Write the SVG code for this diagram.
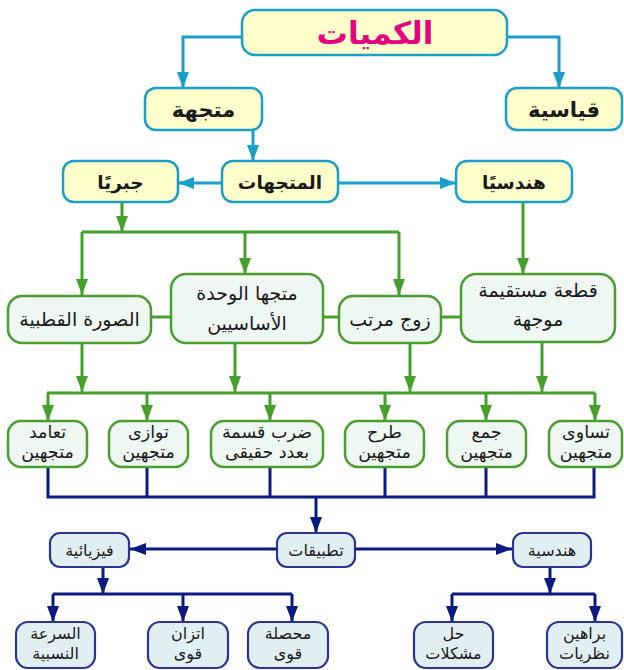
<svg xmlns="http://www.w3.org/2000/svg" width="624" height="670" viewBox="0 0 624 670">
<defs>
<style>
.t{font-family:"DejaVu Sans","Noto Sans",sans-serif;text-anchor:middle;fill:#1a1a1a}
.y rect{fill:#FFFFCC;stroke:#1A9FCB;stroke-width:2.5}
.g rect{fill:#EEF7F2;stroke:#4A9D2F;stroke-width:2.5}
.b rect{fill:#E1EFF3;stroke:#2B3590;stroke-width:2.2}
.cy{fill:none;stroke:#1A9FCB;stroke-width:3}
.cg{fill:none;stroke:#45A02B;stroke-width:3}
.cb{fill:none;stroke:#0B1A80;stroke-width:3}
.ty{font-size:21px;font-weight:bold}
.tm{font-size:18.5px;font-weight:bold}
.tg{font-size:19px}
.tl{font-size:17.5px}
.tb{font-size:16px}
</style>
<marker id="ay" viewBox="0 0 16 12" refX="16" refY="6" markerWidth="16" markerHeight="12" markerUnits="userSpaceOnUse" orient="auto"><path d="M0,0 L16,6 L0,12 z" fill="#1A9FCB"/></marker>
<marker id="ag" viewBox="0 0 16 12" refX="16" refY="6" markerWidth="16" markerHeight="12" markerUnits="userSpaceOnUse" orient="auto"><path d="M0,0 L16,6 L0,12 z" fill="#45A02B"/></marker>
<marker id="ab" viewBox="0 0 16 12" refX="16" refY="6" markerWidth="16" markerHeight="12" markerUnits="userSpaceOnUse" orient="auto"><path d="M0,0 L16,6 L0,12 z" fill="#0B1A80"/></marker>
</defs>
<g id="connectors">
<path class="cy" d="M242,37 H183 V88" marker-end="url(#ay)"/>
<path class="cy" d="M507,37 H559 V88" marker-end="url(#ay)"/>
<path class="cy" d="M253,130 V161" marker-end="url(#ay)"/>
<path class="cy" d="M222,183 H178" marker-end="url(#ay)"/>
<path class="cy" d="M338,183 H456" marker-end="url(#ay)"/>
<path class="cg" d="M122,202 V232" marker-end="url(#ag)"/>
<path class="cg" d="M82,232 H399"/>
<path class="cg" d="M82,232 V295" marker-end="url(#ag)"/>
<path class="cg" d="M245,232 V274" marker-end="url(#ag)"/>
<path class="cg" d="M399,232 V295" marker-end="url(#ag)"/>
<path class="cg" d="M523,202 V274" marker-end="url(#ag)"/>
<path class="cg" d="M151,317 H170 M323,317 H339 M441,317 H461"/>
<path class="cg" d="M82,343 V392" marker-end="url(#ag)"/>
<path class="cg" d="M235,343 V392" marker-end="url(#ag)"/>
<path class="cg" d="M410,343 V392" marker-end="url(#ag)"/>
<path class="cg" d="M542,343 V392" marker-end="url(#ag)"/>
<path class="cg" d="M47,393 H595"/>
<path class="cg" d="M48,393 V421" marker-end="url(#ag)"/>
<path class="cg" d="M147,393 V421" marker-end="url(#ag)"/>
<path class="cg" d="M270,393 V421" marker-end="url(#ag)"/>
<path class="cg" d="M385,393 V421" marker-end="url(#ag)"/>
<path class="cg" d="M486,393 V421" marker-end="url(#ag)"/>
<path class="cg" d="M595,393 V421" marker-end="url(#ag)"/>
<path class="cb" d="M48,467 V497 H594 V467 M147,467 V497 M270,467 V497 M385,467 V497 M486,467 V497"/>
<path class="cb" d="M316,497 V533" marker-end="url(#ab)"/>
<path class="cb" d="M277,549 H130" marker-end="url(#ab)"/>
<path class="cb" d="M355,549 H512" marker-end="url(#ab)"/>
<path class="cb" d="M103,567 V594" marker-end="url(#ab)"/>
<path class="cb" d="M53,594 H292"/>
<path class="cb" d="M53,594 V622" marker-end="url(#ab)"/>
<path class="cb" d="M183,594 V622" marker-end="url(#ab)"/>
<path class="cb" d="M292,594 V622" marker-end="url(#ab)"/>
<path class="cb" d="M550,567 V594" marker-end="url(#ab)"/>
<path class="cb" d="M452,594 H595"/>
<path class="cb" d="M452,594 V622" marker-end="url(#ab)"/>
<path class="cb" d="M595,594 V622" marker-end="url(#ab)"/>
</g>
<g id="n-kamiyat" class="y"><rect x="242" y="10" width="265" height="45" rx="13"/><text class="t" x="375" y="44" style="font-size:31px;font-weight:bold;fill:#E4007F">الكميات</text></g>
<g id="n-mutajiha" class="y"><rect x="145" y="88" width="117" height="42" rx="11"/><text class="t ty" x="203.5" y="117">متجهة</text></g>
<g id="n-qiyasiya" class="y"><rect x="506" y="88" width="116" height="42" rx="11"/><text class="t ty" x="564" y="117">قياسية</text></g>
<g id="n-mutajihat" class="y"><rect x="222" y="161" width="116" height="41" rx="11"/><text class="t tm" x="280" y="189">المتجهات</text></g>
<g id="n-jabriyan" class="y"><rect x="63" y="161" width="115" height="41" rx="11"/><text class="t tm" x="120.5" y="189">جبريًا</text></g>
<g id="n-handasiyan" class="y"><rect x="456" y="161" width="116" height="41" rx="11"/><text class="t tm" x="514" y="189">هندسيًا</text></g>
<g id="n-polar" class="g"><rect x="8" y="296" width="143" height="47" rx="14"/><text class="t tg" x="79.5" y="326">الصورة القطبية</text></g>
<g id="n-unit" class="g"><rect x="171" y="274" width="152" height="69" rx="15"/><text class="t tg" x="247" y="300">متجها الوحدة</text><text class="t tg" x="247" y="330">الأساسيين</text></g>
<g id="n-pair" class="g"><rect x="339" y="296" width="102" height="47" rx="14"/><text class="t tg" x="390" y="326">زوج مرتب</text></g>
<g id="n-segment" class="g"><rect x="461" y="274" width="154" height="68" rx="15"/><text class="t tg" x="538" y="297">قطعة مستقيمة</text><text class="t tg" x="538" y="326">موجهة</text></g>
<g id="n-perp" class="g"><rect x="8" y="421" width="79" height="46" rx="13"/><text class="t tl" x="47.5" y="438">تعامد</text><text class="t tl" x="47.5" y="458">متجهين</text></g>
<g id="n-parallel" class="g"><rect x="109" y="421" width="79" height="46" rx="13"/><text class="t tl" x="148.5" y="438">توازى</text><text class="t tl" x="148.5" y="458">متجهين</text></g>
<g id="n-scalar" class="g"><rect x="211" y="421" width="112" height="46" rx="13"/><text class="t tl" x="267" y="438">ضرب قسمة</text><text class="t tl" x="267" y="458">بعدد حقيقى</text></g>
<g id="n-sub" class="g"><rect x="345" y="421" width="79" height="46" rx="13"/><text class="t tl" x="384.5" y="438">طرح</text><text class="t tl" x="384.5" y="458">متجهين</text></g>
<g id="n-add" class="g"><rect x="447" y="421" width="79" height="46" rx="13"/><text class="t tl" x="486.5" y="438">جمع</text><text class="t tl" x="486.5" y="458">متجهين</text></g>
<g id="n-equal" class="g"><rect x="549" y="421" width="73" height="46" rx="13"/><text class="t tl" x="586" y="438">تساوى</text><text class="t tl" x="586" y="458">متجهين</text></g>
<g id="n-apps" class="b"><rect x="277" y="533" width="78" height="34" rx="10"/><text class="t tb" x="316" y="556">تطبيقات</text></g>
<g id="n-physics" class="b"><rect x="50" y="533" width="79" height="34" rx="10"/><text class="t tb" x="89.5" y="556">فيزيائية</text></g>
<g id="n-geometry" class="b"><rect x="513" y="533" width="78" height="34" rx="10"/><text class="t tb" x="552" y="556">هندسية</text></g>
<g id="n-relvel" class="b"><rect x="16" y="622" width="79" height="46" rx="12"/><text class="t tb" x="55.5" y="639">السرعة</text><text class="t tb" x="55.5" y="659">النسبية</text></g>
<g id="n-equil" class="b"><rect x="148" y="622" width="80" height="46" rx="12"/><text class="t tb" x="188" y="639">اتزان</text><text class="t tb" x="188" y="659">قوى</text></g>
<g id="n-result" class="b"><rect x="248" y="622" width="80" height="46" rx="12"/><text class="t tb" x="288" y="639">محصلة</text><text class="t tb" x="288" y="659">قوى</text></g>
<g id="n-solve" class="b"><rect x="414" y="622" width="79" height="46" rx="12"/><text class="t tb" x="453.5" y="639">حل</text><text class="t tb" x="453.5" y="659">مشكلات</text></g>
<g id="n-proofs" class="b"><rect x="547" y="622" width="75" height="46" rx="12"/><text class="t tb" x="584.5" y="639">براهين</text><text class="t tb" x="584.5" y="659">نظريات</text></g>
</svg>
